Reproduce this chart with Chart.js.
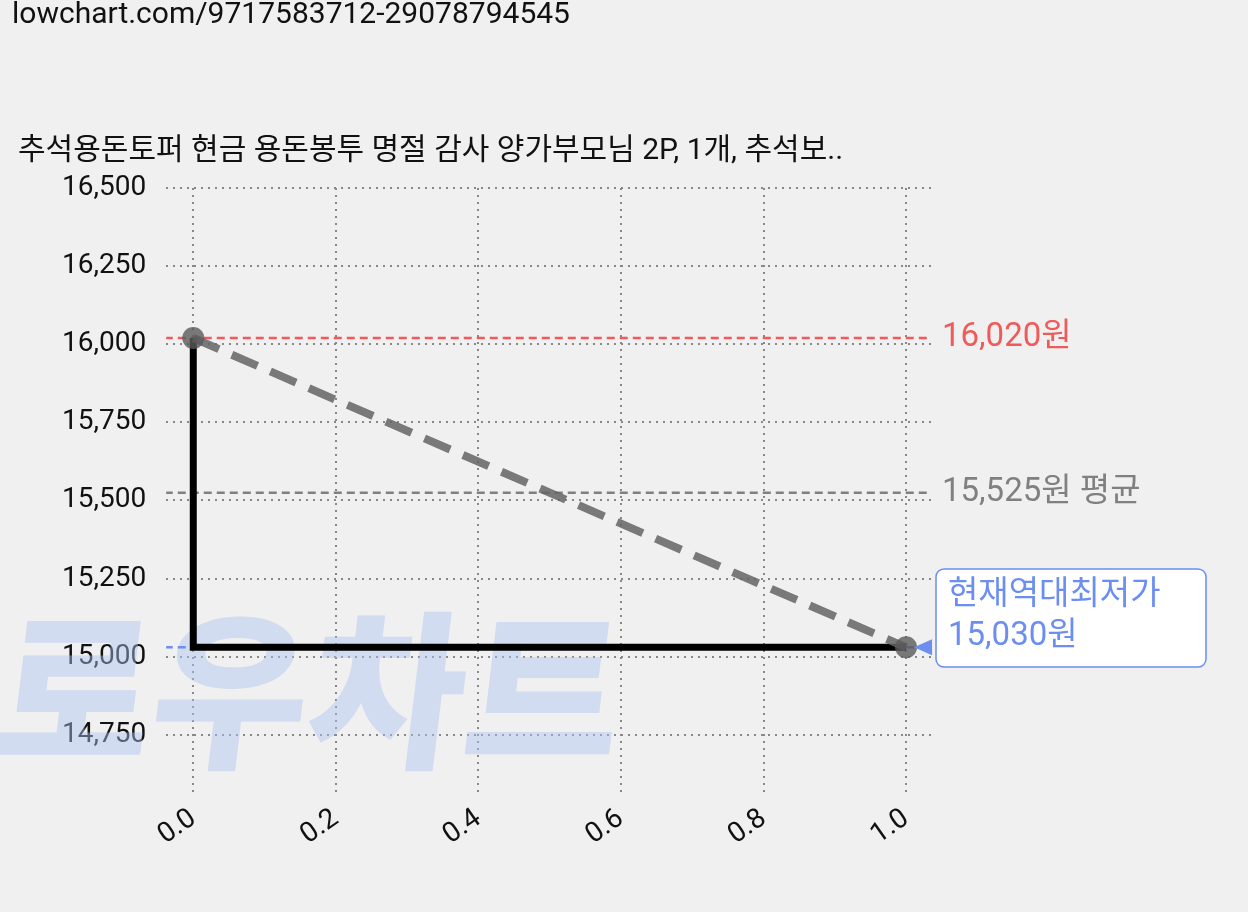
<!DOCTYPE html>
<html><head><meta charset="utf-8">
<script src="https://cdn.jsdelivr.net/npm/chart.js@4/dist/chart.umd.min.js"></script>
<style>html,body{margin:0;background:#f0f0f0;}#w{width:1248px;height:912px;position:relative}</style>
</head><body><div id="w"><canvas id="c" width="1248" height="912"></canvas></div>
<script>
const title = "추석용돈토퍼 현금 용돈봉투 명절 감사 양가부모님 2P, 1개, 추석보..";
const url = "lowchart.com/9717583712-29078794545";
const xVals = [0, 1];
const prices = [16020, 15030];
const maxPrice = 16020, avgPrice = 15525, minPrice = 15030;
const yTicks = [14750, 15000, 15250, 15500, 15750, 16000, 16250, 16500];
const xTicks = [0, 0.2, 0.4, 0.6, 0.8, 1.0];
const F = "Roboto, 'Noto Sans CJK KR', sans-serif";

const deco = {
  id: 'deco',
  beforeDatasetsDraw(ch) {
    const c = ch.ctx;
    c.save();
    c.font = "900 170px 'Noto Sans CJK KR'";
    c.fillStyle = "rgba(170,195,240,0.45)";
    c.setTransform(1, 0, -0.12, 1, 0, 0);
    c.fillText("로우차트", 80, 755);
    c.restore();
  },
  afterDraw(ch) {
    const c = ch.ctx, y = ch.scales.y, x = ch.scales.x;
    c.save();
    c.font = "30px " + F; c.fillStyle = "#111"; c.textBaseline = "top";
    c.fillText(url, 12, 0);
    c.fillText(title, 18, 136);
    c.font = "33px " + F; c.textBaseline = "middle";
    c.fillStyle = "#f05a5a"; c.fillText("16,020원", 942, y.getPixelForValue(maxPrice));
    c.fillStyle = "#808080"; c.fillText("15,525원 평균", 942, y.getPixelForValue(avgPrice));
    const by = 569, bh = 98;
    c.fillStyle = "#fff"; c.strokeStyle = "#6b8ef0"; c.lineWidth = 1.5;
    c.beginPath(); c.roundRect(936, by, 270, bh, 8); c.fill(); c.stroke();
    c.fillStyle = "#6b8ef0";
    c.fillText("현재역대최저가", 948, by + 27);
    c.fillText("15,030원", 948, by + 68);
    const py = y.getPixelForValue(minPrice), px = x.getPixelForValue(1);
    c.beginPath(); c.moveTo(px + 8, py); c.lineTo(px + 26, py - 8); c.lineTo(px + 26, py + 8); c.closePath(); c.fill();
    c.restore();
  }
};

function hline(v, color) {
  return { data: [{x: -0.04, y: v}, {x: 1.035, y: v}], borderColor: color, borderWidth: 2.5, borderDash: [8, 5], pointRadius: 0, fill: false, order: 5 };
}

new Chart(document.getElementById('c'), {
  type: 'line',
  data: { datasets: [
    { data: [{x: 0, y: prices[0]}, {x: 0, y: prices[1]}, {x: 1, y: prices[1]}], borderColor: '#000', borderWidth: 7, pointRadius: 0, order: 2 },
    { data: xVals.map((v, i) => ({x: v, y: prices[i]})), borderColor: 'rgba(100,100,100,0.85)', borderWidth: 8, borderDash: [28, 14], pointRadius: 11, pointBackgroundColor: 'rgba(90,90,90,0.8)', pointBorderWidth: 0, order: 1 },
    hline(maxPrice, '#f05a5a'), hline(avgPrice, '#808080'), hline(minPrice, '#6b8ef0')
  ]},
  options: {
    responsive: false, animation: false, devicePixelRatio: 1,
    layout: { padding: { top: 188, right: 312, left: 42, bottom: 52 } },
    plugins: { legend: { display: false }, tooltip: { enabled: false } },
    scales: {
      x: { type: 'linear', min: -0.038, max: 1.042,
        afterBuildTicks: s => { s.ticks = xTicks.map(v => ({value: v})); },
        grid: { color: '#888', lineWidth: 2, drawTicks: false }, border: { display: false, dash: [2, 5] },
        ticks: { color: '#111', font: { size: 28, family: F }, maxRotation: 35, minRotation: 35, padding: 8, callback: v => v.toFixed(1) } },
      y: { min: 14560, max: 16500,
        afterBuildTicks: s => { s.ticks = yTicks.map(v => ({value: v})); },
        grid: { color: '#888', lineWidth: 2, drawTicks: false }, border: { display: false, dash: [2, 5] },
        ticks: { color: '#111', font: { size: 28, family: F }, padding: 20, callback: v => v.toLocaleString('en-US') } }
    }
  },
  plugins: [deco]
});
</script></body></html>
